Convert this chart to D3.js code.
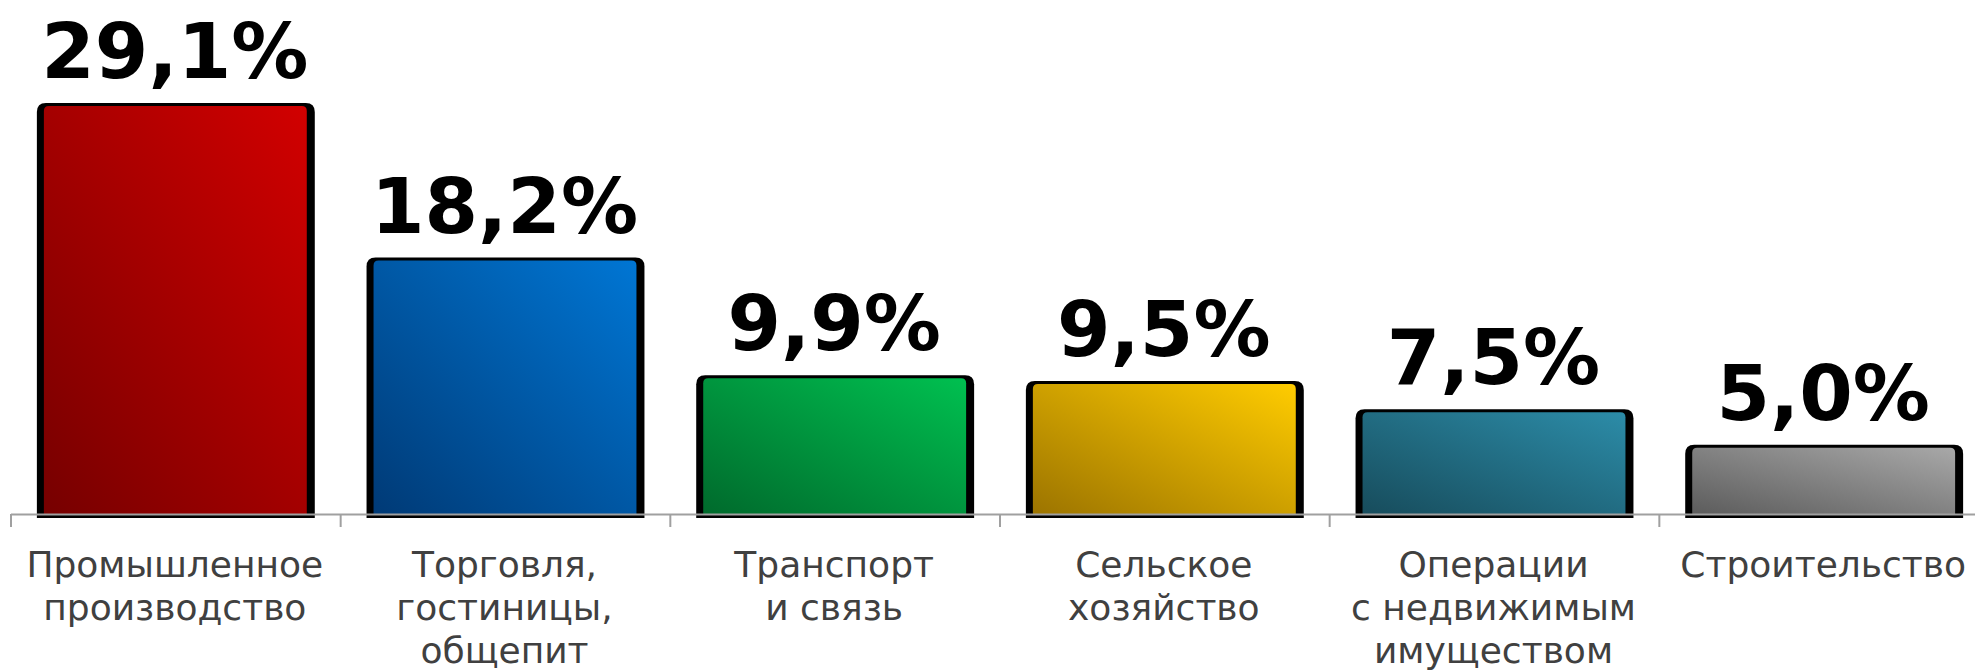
<!DOCTYPE html>
<html>
<head>
<meta charset="utf-8">
<script src="https://cdn.jsdelivr.net/npm/d3@7"></script>
<style>
  html, body { margin: 0; padding: 0; background: #fff; }
  svg { display: block; }
</style>
</head>
<body>
<div id="chart"></div>
<script>
// Data
const categories = [
  "Промышленное\nпроизводство",
  "Торговля,\nгостиницы,\nобщепит",
  "Транспорт\nи связь",
  "Сельское\nхозяйство",
  "Операции\nс недвижимым\nимуществом",
  "Строительство"
];
const values = [29.1, 18.2, 9.9, 9.5, 7.5, 5.0];
const valueLabels = ["29,1%", "18,2%", "9,9%", "9,5%", "7,5%", "5,0%"];
// gradient [dark bottom-left, light top-right]
const barColors = [
  ["#760000", "#d20000"],
  ["#003a76", "#0076d4"],
  ["#006a2c", "#00c050"],
  ["#9c7400", "#ffcc00"],
  ["#174c5c", "#2c8ca8"],
  ["#5c5c5c", "#a8a8a8"]
];

const W = 1975, H = 672;
const baseY = 514;

const svg = d3.select('#chart').append('svg')
  .attr('width', W)
  .attr('height', H);

const defs = svg.append('defs');
barColors.forEach((c, i) => {
  const g = defs.append('linearGradient')
    .attr('id', 'grad' + i)
    .attr('x1', 0).attr('y1', 1)
    .attr('x2', 1).attr('y2', 0);
  g.append('stop').attr('offset', '0%').attr('stop-color', c[0]);
  g.append('stop').attr('offset', '100%').attr('stop-color', c[1]);
});

// Scales
const x = d3.scaleBand()
  .domain(categories)
  .range([10, 1988])
  .paddingInner(0.157)
  .paddingOuter(0.0785);

const y = d3.scaleLinear()
  .domain([0, 29.1])
  .range([515.7, 103]);

// rounded-top bar path
function topRounded(x0, x1, top, bottom, r) {
  return `M${x0},${bottom}V${top + r}Q${x0},${top} ${x0 + r},${top}` +
    `H${x1 - r}Q${x1},${top} ${x1},${top + r}V${bottom}Z`;
}

const data = categories.map((c, i) => ({ cat: c, value: values[i], label: valueLabels[i], i }));

const bars = svg.append('g').selectAll('g.bar')
  .data(data)
  .join('g')
  .attr('class', 'bar');

// black outline / shadow
bars.append('path')
  .attr('fill', '#000')
  .attr('d', d => {
    const x0 = x(d.cat) + 1, x1 = x(d.cat) + x.bandwidth() + 1;
    return topRounded(x0, x1, y(d.value), baseY + 4, 9);
  });

// gradient fill
bars.append('path')
  .attr('fill', d => `url(#grad${d.i})`)
  .attr('d', d => {
    const x0 = x(d.cat) + 8, x1 = x(d.cat) + x.bandwidth() - 7;
    return topRounded(x0, x1, y(d.value) + 3, baseY, 5);
  });

// value labels
svg.append('g').selectAll('text')
  .data(data)
  .join('text')
  .attr('x', d => x(d.cat) + x.bandwidth() / 2)
  .attr('y', d => y(d.value) - 25)
  .attr('text-anchor', 'middle')
  .attr('font-family', '"DejaVu Sans", Verdana, sans-serif')
  .attr('font-weight', 'bold')
  .attr('font-size', 77)
  .attr('fill', '#000')
  .text(d => d.label);

// axis line + ticks at band boundaries
const axis = svg.append('g');
axis.append('line')
  .attr('x1', x.range()[0] + 1).attr('x2', W)
  .attr('y1', baseY + 0.5).attr('y2', baseY + 0.5)
  .attr('stroke', '#a0a0a0')
  .attr('stroke-width', 2);
axis.selectAll('line.tick')
  .data(d3.range(categories.length))
  .join('line')
  .attr('class', 'tick')
  .attr('x1', i => x.range()[0] + 1 + i * x.step())
  .attr('x2', i => x.range()[0] + 1 + i * x.step())
  .attr('y1', baseY)
  .attr('y2', baseY + 13)
  .attr('stroke', '#a0a0a0')
  .attr('stroke-width', 2);

// category labels
const catText = svg.append('g').selectAll('text')
  .data(data)
  .join('text')
  .attr('x', d => x(d.cat) + x.bandwidth() / 2)
  .attr('y', 577)
  .attr('text-anchor', 'middle')
  .attr('font-family', '"DejaVu Sans", Verdana, sans-serif')
  .attr('font-size', 36)
  .attr('fill', '#404040');

catText.each(function (d) {
  const t = d3.select(this);
  d.cat.split('\n').forEach((line, k) => {
    t.append('tspan')
      .attr('x', x(d.cat) + x.bandwidth() / 2)
      .attr('dy', k === 0 ? 0 : 43)
      .text(line);
  });
});
</script>
</body>
</html>
